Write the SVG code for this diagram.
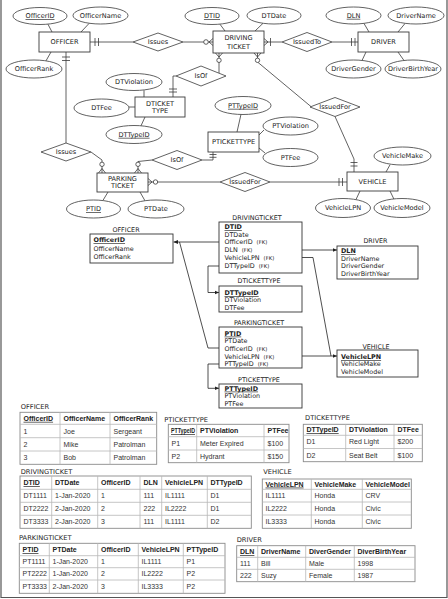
<svg xmlns="http://www.w3.org/2000/svg" width="448" height="599" viewBox="0 0 448 599">
<defs>
<style>
.bg{fill:#fff}
.ent{fill:#fff;stroke:#3a3a3a;stroke-width:0.9}
.att{fill:#fff;stroke:#3a3a3a;stroke-width:0.8}
.rel{fill:#fff;stroke:#3a3a3a;stroke-width:0.8}
.ln{fill:none;stroke:#3a3a3a;stroke-width:0.8}
.mk{fill:none;stroke:#3a3a3a;stroke-width:0.8}
.ci{fill:#fff;stroke:#3a3a3a;stroke-width:0.8}
.t{font-family:"DejaVu Sans",Verdana,sans-serif;font-size:6.6px;fill:#222}
.m{text-anchor:middle}
.u{text-decoration:underline}
.st{font-family:"DejaVu Sans",Verdana,sans-serif;font-size:6.4px;fill:#222}
.b{font-weight:bold}
.fk{font-size:5.3px}
.box{fill:#fff;stroke:#333;stroke-width:0.9}
.sl{fill:none;stroke:#222;stroke-width:0.8}
.tl{font-family:"DejaVu Sans",Verdana,sans-serif;font-size:6.7px;fill:#222}
.tb{fill:#fff;stroke:#8a8a8a;stroke-width:0.9}
.tg{fill:none;stroke:#b8b8b8;stroke-width:0.8}
.tc{font-family:"Liberation Sans",Arial,sans-serif;font-size:7px;fill:#333}
.th{font-family:"Liberation Sans",Arial,sans-serif;font-size:7px;fill:#222;font-weight:bold}
</style>
<marker id="ah" viewBox="0 0 6 6" refX="6" refY="3" markerWidth="4.5" markerHeight="4.5" markerUnits="userSpaceOnUse" orient="auto"><path d="M0,0.4 L6,3 L0,5.6z" fill="#222"/></marker>
</defs>
<rect class="bg" x="0" y="0" width="448" height="599"/>
<path d="M1,0 V597.5 H447 V0" fill="none" stroke="#555" stroke-width="1.2"/>

<!-- ER connectors -->
<g id="er-connectors">
<line class="ln" x1="48" y1="24.3" x2="52" y2="32"/>
<line class="ln" x1="89" y1="23.5" x2="81" y2="32"/>
<line class="ln" x1="46" y1="60.8" x2="51" y2="52"/>
<line class="ln" x1="220" y1="24.3" x2="225" y2="31"/>
<line class="ln" x1="263" y1="23.3" x2="255" y2="31"/>
<line class="ln" x1="364" y1="23.5" x2="369" y2="32"/>
<line class="ln" x1="405" y1="23.5" x2="398" y2="32"/>
<line class="ln" x1="362" y1="60.5" x2="366" y2="52"/>
<line class="ln" x1="404" y1="60.5" x2="398" y2="52"/>
<line class="ln" x1="144" y1="90.3" x2="144" y2="97"/>
<line class="ln" x1="129" y1="107" x2="135" y2="107"/>
<line class="ln" x1="141" y1="125.8" x2="145" y2="117"/>
<line class="ln" x1="241" y1="114.3" x2="237" y2="132"/>
<line class="ln" x1="264" y1="130" x2="259" y2="135"/>
<line class="ln" x1="265" y1="153" x2="259" y2="148"/>
<line class="ln" x1="390" y1="164.8" x2="386" y2="172"/>
<line class="ln" x1="356" y1="199.5" x2="360" y2="191"/>
<line class="ln" x1="394" y1="199.3" x2="390" y2="191"/>
<line class="ln" x1="103" y1="200.3" x2="108" y2="192"/>
<line class="ln" x1="145" y1="200.8" x2="140" y2="192"/>
<!-- OFFICER - Issues -->
<line class="ln" x1="90" y1="42" x2="133" y2="42"/>
<path class="mk" d="M95,38 V46 M98.5,38 V46"/>
<!-- Issues - DRIVING TICKET -->
<line class="ln" x1="183" y1="42" x2="213" y2="42"/>
<circle class="ci" cx="206" cy="42" r="2.3"/>
<path class="mk" d="M209,42 L213,38.5 M209,42 L213,45.5"/>
<!-- DRIVING TICKET - IssuedTo -->
<line class="ln" x1="264" y1="42" x2="282" y2="42"/>
<path class="mk" d="M268,42 L264,38.5 M268,42 L264,45.5 M270.5,38 V46"/>
<!-- IssuedTo - DRIVER -->
<line class="ln" x1="332" y1="42" x2="358" y2="42"/>
<path class="mk" d="M351.5,38 V46 M355,38 V46"/>
<!-- OFFICER - Issues (lower) -->
<line class="ln" x1="66" y1="52" x2="66" y2="143"/>
<path class="mk" d="M62,57 H70 M62,60.5 H70"/>
<!-- Issues - PARKING TICKET -->
<path class="ln" d="M91,152 L102,160 L102,173"/>
<circle class="ci" cx="102" cy="164.3" r="2.2"/>
<path class="mk" d="M102,168.5 L98.5,173 M102,168.5 L105.5,173"/>
<!-- IsOf - PARKING TICKET -->
<path class="ln" d="M152,160 L138,161.5 L138,173"/>
<circle class="ci" cx="138" cy="164.3" r="2.2"/>
<path class="mk" d="M138,168.5 L134.5,173 M138,168.5 L141.5,173"/>
<!-- IsOf - PTICKETTYPE -->
<path class="ln" d="M202,160 L213,160 L213,152"/>
<path class="mk" d="M209.5,154.5 H216.5 M209.5,157.3 H216.5"/>
<!-- PARKING TICKET - IssuedFor -->
<line class="ln" x1="148" y1="182" x2="220" y2="182"/>
<path class="mk" d="M152,182 L148,178.5 M152,182 L148,185.5"/>
<circle class="ci" cx="155.5" cy="182" r="2.2"/>
<!-- IssuedFor - VEHICLE -->
<line class="ln" x1="270" y1="182" x2="347" y2="182"/>
<path class="mk" d="M339,178 V186 M342.5,178 V186"/>
<!-- DRIVING TICKET - IsOf -->
<line class="ln" x1="219" y1="53" x2="219" y2="73.2"/>
<path class="mk" d="M219,57 L215.5,53 M219,57 L222.5,53"/>
<circle class="ci" cx="219" cy="60.3" r="2.2"/>
<!-- IsOf - DTICKET TYPE -->
<path class="ln" d="M176,76 L173,76 L173,97"/>
<path class="mk" d="M169,89 H177 M169,92 H177"/>
<!-- DRIVING TICKET - IssuedFor -->
<line class="ln" x1="257.5" y1="53" x2="257.5" y2="60"/>
<line class="ln" x1="257.5" y1="62" x2="311" y2="106.6"/>
<path class="mk" d="M257.5,57 L254,53 M257.5,57 L261,53"/>
<circle class="ci" cx="257.5" cy="60.3" r="2.2"/>
<!-- IssuedFor - VEHICLE -->
<path class="ln" d="M335,116.5 L354,159 L354,172"/>
<path class="mk" d="M350.5,162.5 H357.5 M350.5,166 H357.5"/>
</g>

<!-- ER entities -->
<g id="officer"><rect class="ent" x="39" y="32" width="51" height="20"/><text class="t m" x="64.5" y="44.3">OFFICER</text></g>
<g id="driving-ticket"><rect class="ent" x="213" y="31" width="51" height="22"/><text class="t m" x="238.5" y="40.3">DRIVING</text><text class="t m" x="238.5" y="48.5">TICKET</text></g>
<g id="driver"><rect class="ent" x="358" y="32" width="51" height="20"/><text class="t m" x="383.5" y="44.3">DRIVER</text></g>
<g id="dticket-type"><rect class="ent" x="135" y="97" width="50" height="20"/><text class="t m" x="160" y="105.6">DTICKET</text><text class="t m" x="160" y="113">TYPE</text></g>
<g id="pticket-type"><rect class="ent" x="208" y="132" width="51" height="20"/><text class="t m" x="233.5" y="144.3">PTICKETTYPE</text></g>
<g id="parking-ticket"><rect class="ent" x="97" y="173" width="51" height="19"/><text class="t m" x="122.5" y="180.6">PARKING</text><text class="t m" x="122.5" y="188">TICKET</text></g>
<g id="vehicle"><rect class="ent" x="347" y="172" width="51" height="19"/><text class="t m" x="372.5" y="183.8">VEHICLE</text></g>

<!-- ER relationships -->
<g id="issues-1"><polygon class="rel" points="133,42 158,33 183,42 158,51"/><text class="t m" x="158" y="44.3">Issues</text></g>
<g id="issuedto"><polygon class="rel" points="282,42 307,32.5 332,42 307,51.5"/><text class="t m" x="307" y="44.3">IssuedTo</text></g>
<g id="isof-1"><polygon class="rel" points="176,76 201,66 226,76 201,86"/><text class="t m" x="201" y="78.3">IsOf</text></g>
<g id="issues-2"><polygon class="rel" points="41,152 66,143 91,152 66,161"/><text class="t m" x="66" y="154.3">Issues</text></g>
<g id="isof-2"><polygon class="rel" points="152,160 177,150.5 202,160 177,169.5"/><text class="t m" x="177" y="162.3">IsOf</text></g>
<g id="issuedfor-1"><polygon class="rel" points="310,107 335,97.5 360,107 335,116.5"/><text class="t m" x="335" y="109.3">IssuedFor</text></g>
<g id="issuedfor-2"><polygon class="rel" points="220,182 245,172.5 270,182 245,191.5"/><text class="t m" x="245" y="184.3">IssuedFor</text></g>

<!-- ER attributes -->
<g id="a-officerid"><ellipse class="att" cx="40" cy="16" rx="27" ry="8.5"/><text class="t m u" x="40" y="18.3">OfficerID</text></g>
<g id="a-officername"><ellipse class="att" cx="100.5" cy="15.5" rx="27.5" ry="8.5"/><text class="t m" x="100.5" y="17.8">OfficerName</text></g>
<g id="a-officerrank"><ellipse class="att" cx="34" cy="69" rx="28" ry="9"/><text class="t m" x="34" y="71.3">OfficerRank</text></g>
<g id="a-dtid"><ellipse class="att" cx="212" cy="16" rx="27" ry="8.5"/><text class="t m u" x="212" y="18.3">DTID</text></g>
<g id="a-dtdate"><ellipse class="att" cx="274" cy="15.5" rx="27" ry="8.5"/><text class="t m" x="274" y="17.8">DTDate</text></g>
<g id="a-dln"><ellipse class="att" cx="353.5" cy="15.5" rx="27.5" ry="8.5"/><text class="t m u" x="353.5" y="17.8">DLN</text></g>
<g id="a-drivername"><ellipse class="att" cx="416" cy="15.5" rx="28" ry="8.5"/><text class="t m" x="416" y="17.8">DriverName</text></g>
<g id="a-drivergender"><ellipse class="att" cx="353.5" cy="69" rx="27.5" ry="9"/><text class="t m" x="353.5" y="71.3">DriverGender</text></g>
<g id="a-driverbirthyear"><ellipse class="att" cx="413" cy="69" rx="28" ry="9"/><text class="t m" x="413" y="71.3">DriverBirthYear</text></g>
<g id="a-dtviolation"><ellipse class="att" cx="134" cy="82" rx="28" ry="8.5"/><text class="t m" x="134" y="84.3">DTViolation</text></g>
<g id="a-dtfee"><ellipse class="att" cx="101.5" cy="108" rx="27.5" ry="9"/><text class="t m" x="101.5" y="110.3">DTFee</text></g>
<g id="a-dttypeid"><ellipse class="att" cx="134" cy="134.5" rx="28" ry="9"/><text class="t m u" x="134" y="136.8">DTTypeID</text></g>
<g id="a-pttypeid"><ellipse class="att" cx="243" cy="105.5" rx="28" ry="9"/><text class="t m u" x="243" y="107.8">PTTypeID</text></g>
<g id="a-ptviolation"><ellipse class="att" cx="290.5" cy="126" rx="27.5" ry="9"/><text class="t m" x="290.5" y="128.3">PTViolation</text></g>
<g id="a-ptfee"><ellipse class="att" cx="290.5" cy="157.5" rx="27.5" ry="9"/><text class="t m" x="290.5" y="159.8">PTFee</text></g>
<g id="a-vehiclemake"><ellipse class="att" cx="402.5" cy="156" rx="28.5" ry="9"/><text class="t m" x="402.5" y="158.3">VehicleMake</text></g>
<g id="a-vehiclelpn"><ellipse class="att" cx="343" cy="208" rx="27.5" ry="9.5"/><text class="t m" x="343" y="210.3">VehicleLPN</text></g>
<g id="a-vehiclemodel"><ellipse class="att" cx="402" cy="208" rx="28" ry="9.5"/><text class="t m" x="402" y="210.3">VehicleModel</text></g>
<g id="a-ptid"><ellipse class="att" cx="93.5" cy="209" rx="27" ry="9"/><text class="t m u" x="93.5" y="211.3">PTID</text></g>
<g id="a-ptdate"><ellipse class="att" cx="156" cy="209" rx="28" ry="9"/><text class="t m" x="156" y="211.3">PTDate</text></g>

<!-- Relational schema connectors -->
<g id="schema-connectors">
<line class="sl" x1="219" y1="242" x2="173.5" y2="242" marker-end="url(#ah)"/>
<path class="sl" d="M219,348 L208,348 L179.5,242"/>
<path class="sl" d="M219,266 L208,266 L208,292.5 L219,292.5" marker-end="url(#ah)"/>
<path class="sl" d="M219,364 L208,364 L208,388.3 L219,388.3" marker-end="url(#ah)"/>
<line class="sl" x1="302" y1="250" x2="337" y2="250" marker-end="url(#ah)"/>
<path class="sl" d="M302,257.5 L313,257.5 L331,356"/>
<line class="sl" x1="302" y1="356" x2="337" y2="356" marker-end="url(#ah)"/>
</g>

<!-- Relational schema boxes -->
<g id="r-officer">
<text class="st m" x="126" y="232">OFFICER</text>
<rect class="box" x="90" y="234" width="83" height="29"/>
<text class="st b u" x="93.5" y="242.3">OfficerID</text>
<text class="st" x="93.5" y="250.6">OfficerName</text>
<text class="st" x="93.5" y="259">OfficerRank</text>
</g>
<g id="r-drivingticket">
<text class="st m" x="257" y="220">DRIVINGTICKET</text>
<rect class="box" x="219" y="222" width="83" height="51"/>
<text class="st b u" x="224.5" y="229">DTID</text>
<text class="st" x="224.5" y="236.7">DTDate</text>
<text class="st" x="224.5" y="244.2">OfficerID<tspan class="fk" dx="4">(FK)</tspan></text>
<text class="st" x="224.5" y="251.8">DLN<tspan class="fk" dx="4">(FK)</tspan></text>
<text class="st" x="224.5" y="260">VehicleLPN<tspan class="fk" dx="4">(FK)</tspan></text>
<text class="st" x="224.5" y="268.3">DTTypeID<tspan class="fk" dx="4">(FK)</tspan></text>
</g>
<g id="r-dtickettype">
<text class="st m" x="259" y="282.5">DTICKETTYPE</text>
<rect class="box" x="219" y="286" width="83" height="26"/>
<text class="st b u" x="224.5" y="295">DTTypeID</text>
<text class="st" x="224.5" y="302.3">DTViolation</text>
<text class="st" x="224.5" y="310">DTFee</text>
</g>
<g id="r-parkingticket">
<text class="st m" x="259" y="325">PARKINGTICKET</text>
<rect class="box" x="219" y="327" width="83" height="41"/>
<text class="st b u" x="224.5" y="335.6">PTID</text>
<text class="st" x="224.5" y="343.3">PTDate</text>
<text class="st" x="224.5" y="351">OfficerID<tspan class="fk" dx="4">(FK)</tspan></text>
<text class="st" x="224.5" y="359">VehicleLPN<tspan class="fk" dx="4">(FK)</tspan></text>
<text class="st" x="224.5" y="366.3">PTTypeID<tspan class="fk" dx="4">(FK)</tspan></text>
</g>
<g id="r-ptickettype">
<text class="st m" x="259" y="381.5">PTICKETTYPE</text>
<rect class="box" x="219" y="384" width="83" height="24"/>
<text class="st b u" x="224.5" y="390.6">PTTypeID</text>
<text class="st" x="224.5" y="398.3">PTViolation</text>
<text class="st" x="224.5" y="405.8">PTFee</text>
</g>
<g id="r-driver">
<text class="st m" x="375.5" y="243">DRIVER</text>
<rect class="box" x="337" y="246" width="81" height="33"/>
<text class="st b u" x="341" y="253">DLN</text>
<text class="st" x="341" y="260.6">DriverName</text>
<text class="st" x="341" y="268.3">DriverGender</text>
<text class="st" x="341" y="275.6">DriverBirthYear</text>
</g>
<g id="r-vehicle">
<text class="st m" x="376" y="348.5">VEHICLE</text>
<rect class="box" x="337" y="350" width="81" height="27"/>
<text class="st b u" x="341" y="359">VehicleLPN</text>
<text class="st" x="341" y="366.3">VehicleMake</text>
<text class="st" x="341" y="374">VehicleModel</text>
</g>

<!-- Data tables -->
<g id="t-officer">
<text class="tl" x="20.7" y="409">OFFICER</text>
<rect class="tb" x="20" y="412.3" width="136.7" height="52"/>
<path class="tg" d="M20,424.3 H156.7 M20,437.7 H156.7 M20,451 H156.7 M60,412.3 V464.3 M110,412.3 V464.3"/>
<text class="th u" x="23.5" y="420.8">OfficerID</text><text class="th" x="63.5" y="420.8">OfficerName</text><text class="th" x="113.5" y="420.8">OfficerRank</text>
<text class="tc" x="23.5" y="433.5">1</text><text class="tc" x="63.5" y="433.5">Joe</text><text class="tc" x="113.5" y="433.5">Sergeant</text>
<text class="tc" x="23.5" y="446.8">2</text><text class="tc" x="63.5" y="446.8">Mike</text><text class="tc" x="113.5" y="446.8">Patrolman</text>
<text class="tc" x="23.5" y="460.2">3</text><text class="tc" x="63.5" y="460.2">Bob</text><text class="tc" x="113.5" y="460.2">Patrolman</text>
</g>
<g id="t-ptickettype">
<text class="tl" x="164.3" y="422.2">PTICKETTYPE</text>
<rect class="tb" x="168.3" y="424.3" width="120.7" height="38.4"/>
<path class="tg" d="M168.3,436.7 H289 M168.3,450 H289 M196.7,424.3 V462.7 M264,424.3 V462.7"/>
<text class="th u" x="171" y="433" textLength="24" lengthAdjust="spacingAndGlyphs">PTTypeID</text><text class="th" x="200" y="433">PTViolation</text><text class="th" x="267.5" y="433">PTFee</text>
<text class="tc" x="171.5" y="445.8">P1</text><text class="tc" x="200" y="445.8">Meter Expired</text><text class="tc" x="267.5" y="445.8">$100</text>
<text class="tc" x="171.5" y="458.8">P2</text><text class="tc" x="200" y="458.8">Hydrant</text><text class="tc" x="267.5" y="458.8">$150</text>
</g>
<g id="t-dtickettype">
<text class="tl" x="305" y="420">DTICKETTYPE</text>
<rect class="tb" x="303.3" y="424.3" width="119" height="37.4"/>
<path class="tg" d="M303.3,435.3 H422.3 M303.3,448.5 H422.3 M345.7,424.3 V461.7 M394,424.3 V461.7"/>
<text class="th u" x="306.5" y="432.3">DTTypeID</text><text class="th" x="349" y="432.3">DTViolation</text><text class="th" x="397.5" y="432.3">DTFee</text>
<text class="tc" x="306.5" y="444.4">D1</text><text class="tc" x="349" y="444.4">Red Light</text><text class="tc" x="397.5" y="444.4">$200</text>
<text class="tc" x="306.5" y="457.6">D2</text><text class="tc" x="349" y="457.6">Seat Belt</text><text class="tc" x="397.5" y="457.6">$100</text>
</g>
<g id="t-drivingticket">
<text class="tl" x="20.7" y="474">DRIVINGTICKET</text>
<rect class="tb" x="20" y="476" width="231.3" height="52.3"/>
<path class="tg" d="M20,489.3 H251.3 M20,502.3 H251.3 M20,515.3 H251.3 M51.7,476 V528.3 M97.7,476 V528.3 M140,476 V528.3 M161.7,476 V528.3 M207.3,476 V528.3"/>
<text class="th u" x="23.5" y="485.2">DTID</text><text class="th" x="55" y="485.2">DTDate</text><text class="th" x="101" y="485.2">OfficerID</text><text class="th" x="143.5" y="485.2">DLN</text><text class="th" x="165" y="485.2">VehicleLPN</text><text class="th" x="210.5" y="485.2">DTTypeID</text>
<text class="tc" x="23.5" y="498.3">DT1111</text><text class="tc" x="55" y="498.3">1-Jan-2020</text><text class="tc" x="101" y="498.3">1</text><text class="tc" x="143.5" y="498.3">111</text><text class="tc" x="165" y="498.3">IL1111</text><text class="tc" x="210.5" y="498.3">D1</text>
<text class="tc" x="23.5" y="511.3">DT2222</text><text class="tc" x="55" y="511.3">2-Jan-2020</text><text class="tc" x="101" y="511.3">2</text><text class="tc" x="143.5" y="511.3">222</text><text class="tc" x="165" y="511.3">IL2222</text><text class="tc" x="210.5" y="511.3">D1</text>
<text class="tc" x="23.5" y="524.3">DT3333</text><text class="tc" x="55" y="524.3">2-Jan-2020</text><text class="tc" x="101" y="524.3">3</text><text class="tc" x="143.5" y="524.3">111</text><text class="tc" x="165" y="524.3">IL1111</text><text class="tc" x="210.5" y="524.3">D2</text>
</g>
<g id="t-vehicle">
<text class="tl" x="263.3" y="474.2">VEHICLE</text>
<rect class="tb" x="262.3" y="479" width="149" height="49.3"/>
<path class="tg" d="M262.3,489.3 H411.3 M262.3,502 H411.3 M262.3,515 H411.3 M311.3,479 V528.3 M362.3,479 V528.3"/>
<text class="th u" x="265.5" y="486.6">VehicleLPN</text><text class="th" x="314.5" y="486.6">VehicleMake</text><text class="th" x="365.5" y="486.6">VehicleModel</text>
<text class="tc" x="265.5" y="498.2">IL1111</text><text class="tc" x="314.5" y="498.2">Honda</text><text class="tc" x="365.5" y="498.2">CRV</text>
<text class="tc" x="265.5" y="511">IL2222</text><text class="tc" x="314.5" y="511">Honda</text><text class="tc" x="365.5" y="511">Civic</text>
<text class="tc" x="265.5" y="524">IL3333</text><text class="tc" x="314.5" y="524">Honda</text><text class="tc" x="365.5" y="524">Civic</text>
</g>
<g id="t-parkingticket">
<text class="tl" x="19" y="540.2">PARKINGTICKET</text>
<rect class="tb" x="19.3" y="543.3" width="205.7" height="50"/>
<path class="tg" d="M19.3,555.7 H225 M19.3,567.7 H225 M19.3,580 H225 M49.3,543.3 V593.3 M97.7,543.3 V593.3 M138.3,543.3 V593.3 M183.3,543.3 V593.3"/>
<text class="th u" x="22.5" y="552">PTID</text><text class="th" x="52.5" y="552">PTDate</text><text class="th" x="101" y="552">OfficerID</text><text class="th" x="141.5" y="552">VehicleLPN</text><text class="th" x="186.5" y="552">PTTypeID</text>
<text class="tc" x="22.5" y="564.2">PT1111</text><text class="tc" x="52.5" y="564.2">1-Jan-2020</text><text class="tc" x="101" y="564.2">1</text><text class="tc" x="141.5" y="564.2">IL1111</text><text class="tc" x="186.5" y="564.2">P1</text>
<text class="tc" x="22.5" y="576.4">PT2222</text><text class="tc" x="52.5" y="576.4">1-Jan-2020</text><text class="tc" x="101" y="576.4">2</text><text class="tc" x="141.5" y="576.4">IL2222</text><text class="tc" x="186.5" y="576.4">P2</text>
<text class="tc" x="22.5" y="589.2">PT3333</text><text class="tc" x="52.5" y="589.2">2-Jan-2020</text><text class="tc" x="101" y="589.2">3</text><text class="tc" x="141.5" y="589.2">IL3333</text><text class="tc" x="186.5" y="589.2">P2</text>
</g>
<g id="t-driver">
<text class="tl" x="236.7" y="541.5">DRIVER</text>
<rect class="tb" x="236.7" y="545.7" width="178.3" height="36"/>
<path class="tg" d="M236.7,557.3 H415 M236.7,569.3 H415 M257.7,545.7 V581.7 M305.7,545.7 V581.7 M354.3,545.7 V581.7"/>
<text class="th u" x="240" y="554">DLN</text><text class="th" x="261" y="554">DriverName</text><text class="th" x="309" y="554">DiverGender</text><text class="th" x="357.5" y="554">DiverBirthYear</text>
<text class="tc" x="240" y="565.8">111</text><text class="tc" x="261" y="565.8">Bill</text><text class="tc" x="309" y="565.8">Male</text><text class="tc" x="357.5" y="565.8">1998</text>
<text class="tc" x="240" y="578">222</text><text class="tc" x="261" y="578">Suzy</text><text class="tc" x="309" y="578">Female</text><text class="tc" x="357.5" y="578">1987</text>
</g>
</svg>
